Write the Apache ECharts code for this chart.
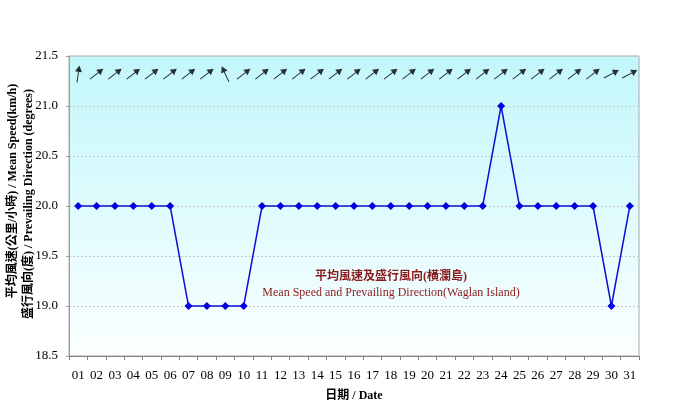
<!DOCTYPE html>
<html>
<head>
<meta charset="utf-8">
<script src="https://cdn.jsdelivr.net/npm/echarts@6/dist/echarts.min.js"></script>
<style>
html,body{margin:0;padding:0;background:#fff;}
#chart{width:684px;height:420px;}
</style>
</head>
<body>
<div id="chart"></div>
<script>
// ---- data ----
var days = ['01','02','03','04','05','06','07','08','09','10','11','12','13','14','15','16','17','18','19','20','21','22','23','24','25','26','27','28','29','30','31'];
var meanSpeed = [20,20,20,20,20,20,19,19,19,19,20,20,20,20,20,20,20,20,20,20,20,20,20,21,20,20,20,20,20,19,20];
// compass bearing (degrees) that each prevailing-direction arrow points to
var arrowBearing = [8,52,52,52,52,52,52,52,335,52,52,52,52,52,52,52,52,52,52,52,52,52,52,52,52,52,52,52,52,62,62];
var yTicks = ['18.5','19.0','19.5','20.0','20.5','21.0','21.5'];
var arrowLevel = 21.32;
var yNameLines = ['平均風速(公里/小時) / Mean Speed(km/h)', '盛行風向(度) / Prevailing Direction (degrees)'];

var serif = '"Liberation Serif","DejaVu Serif","Noto Sans CJK TC",serif';
var arrowData = days.map(function(d, i){
  return { value: [d, arrowLevel], symbolRotate: -arrowBearing[i] };
});

var chart = echarts.init(document.getElementById('chart'), null, {renderer:'canvas'});
chart.setOption({
  animation: false,
  backgroundColor: '#ffffff',
  grid: {
    left: 69, right: 45, top: 56, bottom: 64,
    containLabel: false,
    outerBoundsMode: 'none',
    show: true,
    borderColor: '#a8a8a8', borderWidth: 1,
    backgroundColor: new echarts.graphic.LinearGradient(0,0,0,1,[
      {offset:0, color:'#c2f7fb'},
      {offset:1, color:'#fbffff'}
    ])
  },
  graphic: [
    {type:'text', x: 391, y: 277, style:{text:'平均風速及盛行風向(橫瀾島)', fill:'#8b1a1a', font:'bold 12px ' + serif, textAlign:'center', textVerticalAlign:'middle'}},
    {type:'text', x: 391, y: 293, style:{text:'Mean Speed and Prevailing Direction(Waglan Island)', fill:'#8b1a1a', font:'12px ' + serif, textAlign:'center', textVerticalAlign:'middle'}},
    {type:'text', x: 13, y: 191, rotation: Math.PI/2, style:{text: yNameLines[0], fill:'#000', font:'bold 12px ' + serif, textAlign:'center', textVerticalAlign:'middle'}},
    {type:'text', x: 29, y: 204, rotation: Math.PI/2, style:{text: yNameLines[1], fill:'#000', font:'bold 12px ' + serif, textAlign:'center', textVerticalAlign:'middle'}}
  ],
  xAxis: {
    type: 'category',
    data: days,
    boundaryGap: true,
    name: '日期 / Date',
    nameLocation: 'middle',
    nameGap: 34,
    nameTextStyle: {fontFamily: serif, fontSize: 12, fontWeight: 'bold', color:'#000'},
    axisLine: {lineStyle: {color:'#808080', width:1}},
    axisTick: {show:true, inside:false, length:4, alignWithLabel:false, lineStyle:{color:'#808080'}},
    axisLabel: {fontFamily: serif, fontSize: 13, color:'#000', margin: 13, interval: 0},
    splitLine: {show:false}
  },
  yAxis: {
    type: 'value',
    min: 18.5, max: 21.5, interval: 0.5,
    axisLine: {show:true, lineStyle:{color:'#a0a0a0', width:1}},
    axisTick: {show:true, length:3, lineStyle:{color:'#a0a0a0'}},
    axisLabel: {fontFamily: serif, fontSize: 13, color:'#000', margin: 11,
      formatter: function(v){ var s = v.toFixed(1); return yTicks.indexOf(s) >= 0 ? s : ''; }},
    splitLine: {show:true, lineStyle:{color:'#c8c8c8', type:[2,2], width:1}}
  },
  series: [
    {
      name: 'Mean Speed',
      type: 'line',
      data: meanSpeed,
      symbol: 'diamond',
      symbolSize: 8,
      itemStyle: {color:'#0000e0'},
      lineStyle: {color:'#1010d0', width:1.5},
      z: 3
    },
    {
      name: 'Prevailing Direction',
      type: 'scatter',
      data: arrowData,
      symbol: 'path://M4.3,9 L5.7,9 L5.7,30 L4.3,30 Z M5,0 L10,11 L0,11 Z',
      symbolSize: [7, 17],
      itemStyle: {color:'#000000'},
      silent: true,
      z: 4
    }
  ]
});
</script>
</body>
</html>
